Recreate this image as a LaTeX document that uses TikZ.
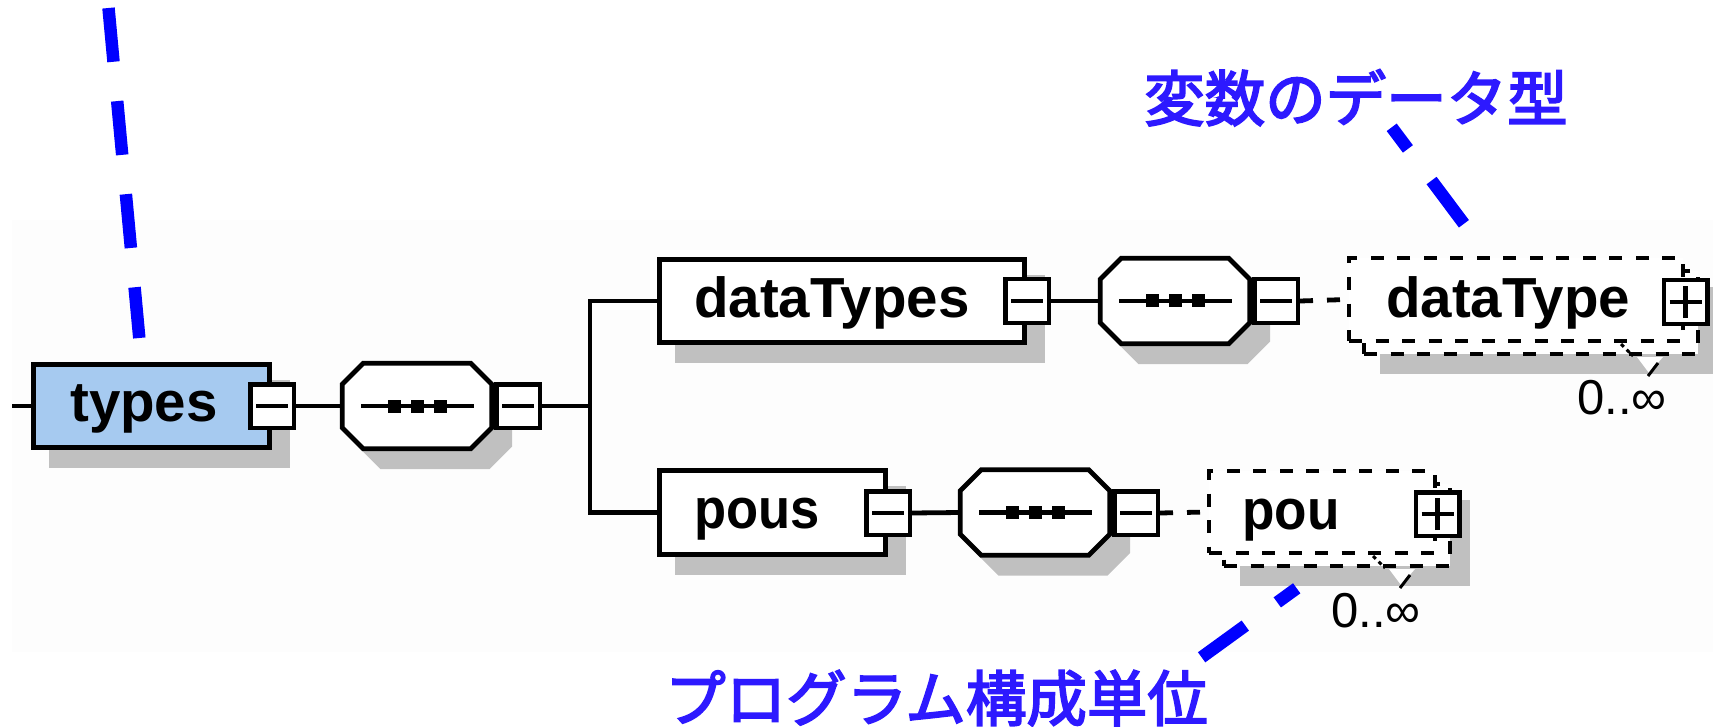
\documentclass[tikz,border=0pt]{standalone}
\usepackage{graphicx}
\usepackage{fontspec}
\setmainfont{Liberation Sans}
\newfontfamily\cjk[FakeBold=3]{Noto Sans CJK JP}
\usetikzlibrary{calc}

\definecolor{shadowgray}{RGB}{192,192,192}
\definecolor{rootfill}{RGB}{166,202,240}
\definecolor{notecol}{RGB}{45,25,255}
\definecolor{calloutcol}{RGB}{0,0,255}
\definecolor{panel}{RGB}{253,253,253}

\pgfdeclarelayer{bg}
\pgfdeclarelayer{shade}
\pgfsetlayers{bg,shade,main}

\tikzset{
  conn/.style={line width=4.8pt},
  elbox/.style={draw, line width=4.8pt, fill=white, rectangle, inner sep=0pt, minimum height=83.5pt},
  pmbox/.style={draw, line width=4.5pt, fill=white, rectangle, inner sep=0pt, minimum width=43.5pt, minimum height=43.5pt},
  seqbox/.style={rectangle, inner sep=0pt, outer sep=0pt, minimum width=149.5pt, minimum height=85.5pt},
  optbox/.style={draw, line width=4pt, dash pattern=on 13pt off 13.5pt, fill=white, rectangle, inner sep=0pt, minimum height=82pt},
  lbl/.style={font=\fontsize{56.5}{60}\selectfont\bfseries, inner sep=0pt, anchor=base west},
  occ/.style={font=\fontsize{49}{52}\selectfont, inner sep=0pt, anchor=base west},
  note/.style={font=\cjk\fontsize{60.5}{66}\selectfont, text=notecol, inner sep=0pt, anchor=base west},
  callout/.style={draw=calloutcol, line width=12.5pt, dash pattern=on 54pt off 39.5pt},
  optlink/.style={conn, dash pattern=on 13pt off 14pt},
}

% grey drop shadow behind a rectangular node
\newcommand\boxshadow[1]{%
  \fill[shadowgray] ([xshift=18pt,yshift=-18pt]#1.north west) rectangle ([xshift=18pt,yshift=-18pt]#1.south east);}

% octagonal sequence compositor with its shadow and the dotted bar
\newcommand\seqshadow[1]{%
  \filldraw[shadowgray, line width=4.5pt] ([xshift=39pt,yshift=-18pt]#1.north west) -- ([xshift=-3pt,yshift=-18pt]#1.north east) -- ([xshift=18pt,yshift=-39pt]#1.north east) -- ([xshift=18pt,yshift=3pt]#1.south east) -- ([xshift=-3pt,yshift=-18pt]#1.south east) -- ([xshift=39pt,yshift=-18pt]#1.south west) -- ([xshift=18pt,yshift=3pt]#1.south west) -- ([xshift=18pt,yshift=-39pt]#1.north west) -- cycle;}
\newcommand\seqshape[1]{%
  \filldraw[conn, fill=white] ([xshift=21pt]#1.north west) -- ([xshift=-21pt]#1.north east) -- ([yshift=-21pt]#1.north east) -- ([yshift=21pt]#1.south east) -- ([xshift=-21pt]#1.south east) -- ([xshift=21pt]#1.south west) -- ([yshift=21pt]#1.south west) -- ([yshift=-21pt]#1.north west) -- cycle;
  \draw[conn] ([xshift=-56pt]#1.center) -- ([xshift=57pt]#1.center);
  \foreach \d in {-23,0,23} \fill ([xshift=\d pt]#1.center) +(-6.5pt,-6.5pt) rectangle +(6.5pt,6.5pt);}

% minus and plus signs inside the small expander boxes
\newcommand\minussign[1]{\draw[conn] ([xshift=-16pt]#1.center) -- ([xshift=16pt]#1.center);}
\newcommand\plussign[1]{\draw[conn] ([xshift=-16pt]#1.center) -- ([xshift=16pt]#1.center);
  \draw[conn] ([yshift=-16pt]#1.center) -- ([yshift=16pt]#1.center);}

% small occurrence notch under a repeated element
\newcommand\notch[1]{%
  \fill[white] ($(#1.center)+(-48.5,55)$) -- ($(#1.center)+(-22.5,55)$) -- ($(#1.center)+(-36.5,71)$) -- cycle;
  \draw[line width=3pt] ($(#1.center)+(-27.5,61)$) -- ($(#1.center)+(-37.5,74)$);
  \draw[line width=3pt, dash pattern=on 4pt off 4pt] ($(#1.center)+(-64.5,42)$) -- ($(#1.center)+(-52.5,54)$);}

\begin{document}
\begin{tikzpicture}[x=1pt, y=-1pt]
\useasboundingbox (0,0) rectangle (1713,727);
\begin{pgfonlayer}{bg}
  \fill[white] (0,0) rectangle (1713,727);
  \fill[panel] (12,220) rectangle (1713,652);
\end{pgfonlayer}

% root element
\node[elbox, fill=rootfill, minimum width=236.5pt] (types) at (151.5,406) {};
\node[pmbox] (typesM) at (272,406) {};
\node[seqbox] (o1) at (417,406) {};
\node[pmbox] (o1M) at (518,406) {};
\coordinate (stub) at (12,406);
\coordinate (br) at (590,406);

% upper branch
\node[elbox, minimum width=365.5pt] (dataTypes) at (842,301) {};
\node[pmbox] (dtM) at (1027,301) {};
\node[seqbox] (o2) at (1175,301) {};
\node[pmbox] (o2M) at (1276,301) {};
\node[optbox, minimum width=334pt] (dtB) at (1531,312.5) {};
\node[optbox, minimum width=334pt] (dtF) at (1516,299.5) {};
\node[pmbox] (dtP) at (1685.5,302) {};

% lower branch
\node[elbox, minimum width=226.5pt] (pous) at (772.5,512.5) {};
\node[pmbox] (psM) at (888,513) {};
\node[seqbox] (o3) at (1035,512.5) {};
\node[pmbox] (o3M) at (1136,513) {};
\node[optbox, minimum width=226pt] (pB) at (1337,525) {};
\node[optbox, minimum width=226pt] (pF) at (1322,512) {};
\node[pmbox] (pP) at (1437.5,514) {};

% shadows
\begin{pgfonlayer}{shade}
  \boxshadow{types}
  \boxshadow{dataTypes}
  \boxshadow{pous}
  \boxshadow{dtB}
  \boxshadow{pB}
  \seqshadow{o1}
  \seqshadow{o2}
  \seqshadow{o3}
\end{pgfonlayer}

% connectors
\draw[conn] (stub) -- (types.west);
\draw[conn] (typesM.east) -- (o1.west);
\draw[conn] (o1M.east) -- (br);
\draw[conn] (dataTypes.west) -| (br) |- (pous.west);
\draw[conn] (dtM.east) -- (o2.west);
\draw[optlink] (o2M.east) -- (dtF.west);
\draw[conn] (psM.east) -- (o3.west);
\draw[optlink] (o3M.east) -- (pF.west);

% compositors
\seqshape{o1}
\seqshape{o2}
\seqshape{o3}
\node[pmbox] at (o1M) {};
\node[pmbox] at (o2M) {};
\node[pmbox] at (o3M) {};

% expander signs
\minussign{typesM}
\minussign{o1M}
\minussign{dtM}
\minussign{o2M}
\minussign{psM}
\minussign{o3M}
\plussign{dtP}
\plussign{pP}

\notch{dtP}
\notch{pP}

% element names
\node[lbl] (typesL) at (70,421) {types};
\node[lbl] (dataTypesL) at (694,317) {dataTypes};
\node[lbl] (dataTypeL) at (1386,317) {dataType};
\node[lbl] (pousL) at (694,528) {\scalebox{0.93}[1]{pous}};
\node[lbl] (pouL) at (1242,529) {\scalebox{0.94}[1]{pou}};

% occurrence ranges
\node[occ] (dtOcc) at (1577,414) {0..∞};
\node[occ] (pOcc) at (1331,627) {0..∞};

% annotations
\node[note] (noteType) at (1144,121) {変数のデータ型};
\node[note] (notePou) at (665,721) {プログラム構成単位};

\coordinate (c1a) at (108.5,8);
\coordinate (c1b) at (139.3,338);
\coordinate (c2a) at (1391.7,127.3);
\coordinate (c2b) at (1464.3,224.3);
\coordinate (c3a) at (1296.7,588.3);
\coordinate (c3b) at (1201.6,657.3);
\draw[callout] (c1a) -- (c1b);
\draw[callout, dash phase=27pt] (c2a) -- (c2b);
\draw[callout, dash phase=30pt] (c3a) -- (c3b);
\end{tikzpicture}
\end{document}
